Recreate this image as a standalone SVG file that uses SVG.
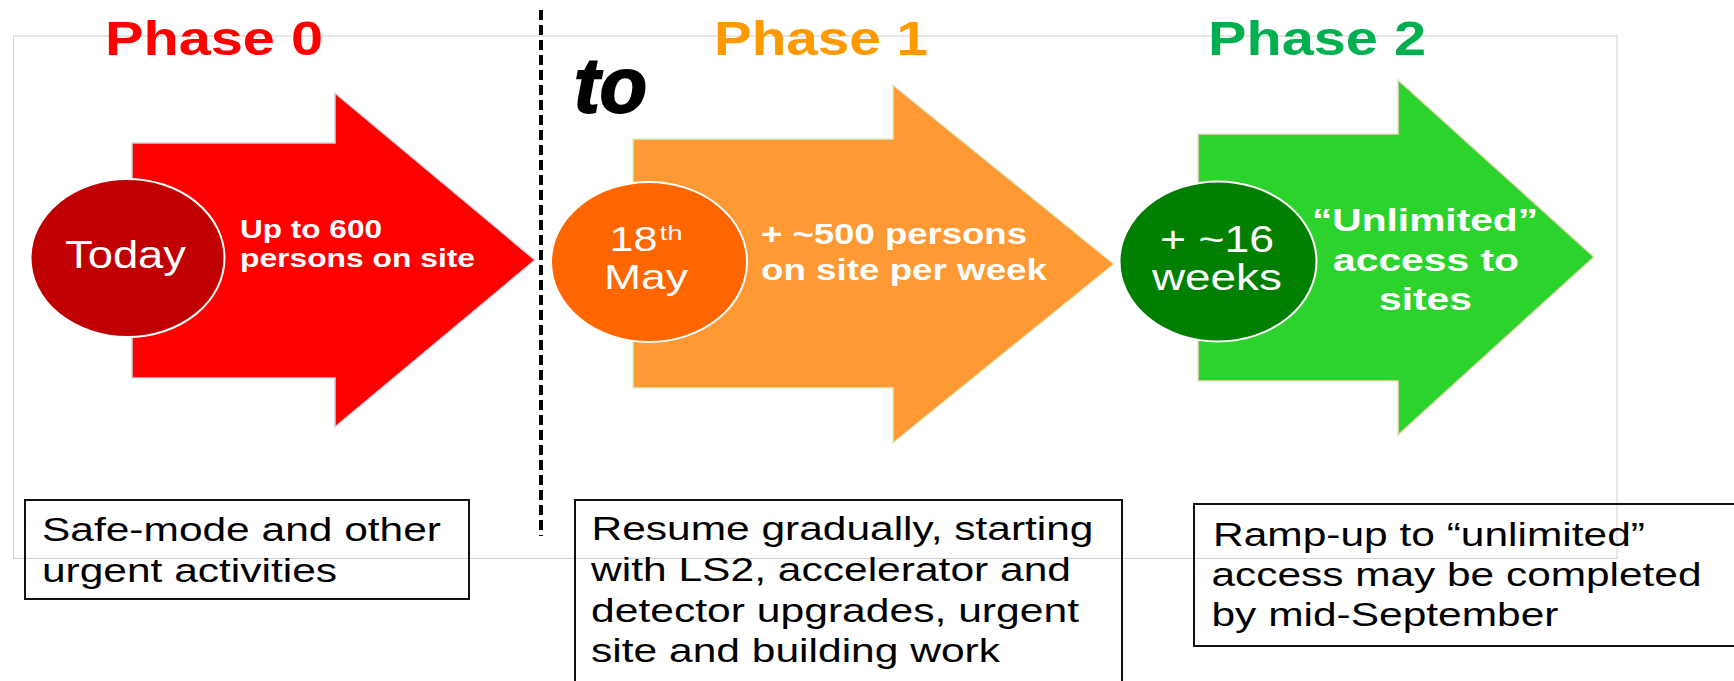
<svg xmlns="http://www.w3.org/2000/svg" width="1734" height="681" viewBox="0 0 1734 681">
<style>
text{font-family:"Liberation Sans",Arial,sans-serif}
.ph{font-size:48px;font-weight:bold}
.circ{stroke:#ffffff;stroke-width:2}
.ctext{fill:#ffffff}
.atext{fill:#ffffff;font-weight:bold}
.box{fill:none;stroke:#111111;stroke-width:2}
.btext{fill:#000000;font-size:33px}
</style>
<rect x="13.5" y="36" width="1603.5" height="522.5" fill="none" stroke="#d0d0d0" stroke-width="1"/>
<g id="titles">
<text class="ph" x="105" y="54.5" fill="#FF0000" textLength="218" lengthAdjust="spacingAndGlyphs">Phase 0</text>
<text class="ph" x="714" y="54.5" fill="#FF9900" textLength="214" lengthAdjust="spacingAndGlyphs">Phase 1</text>
<text class="ph" x="1208" y="54.5" fill="#00B050" textLength="218" lengthAdjust="spacingAndGlyphs">Phase 2</text>
<text x="574" y="112" font-size="78" font-weight="bold" font-style="italic" fill="#000" stroke="#000" stroke-width="2" textLength="73" lengthAdjust="spacingAndGlyphs">to</text>
</g>
<g id="connectors">
<line x1="541" y1="10" x2="541" y2="536" stroke="#000" stroke-width="4" stroke-dasharray="10 5"/>
</g>
<g id="phase0">
<polygon points="132,143 335,143 335,93 535,260 335,427 335,378 132,378" fill="#FF0000" stroke="#c4d8e4" stroke-width="1.5"/>
<ellipse class="circ" cx="127.5" cy="258" rx="97" ry="79" fill="#C00000"/>
<text class="ctext" x="65" y="268" font-size="38" textLength="121" lengthAdjust="spacingAndGlyphs">Today</text>
<text class="atext" x="240" y="238" font-size="26" textLength="142" lengthAdjust="spacingAndGlyphs">Up to 600</text>
<text class="atext" x="240" y="267" font-size="26" textLength="235" lengthAdjust="spacingAndGlyphs">persons on site</text>
</g>
<g id="phase1">
<polygon points="633,139 893,139 893,85 1114,264 893,443 893,388 633,388" fill="#FF9933" stroke="#d4f0c8" stroke-width="1.5"/>
<ellipse class="circ" cx="649" cy="262" rx="98" ry="80" fill="#FF6600"/>
<text class="ctext" x="609.6" y="251" font-size="35" textLength="48" lengthAdjust="spacingAndGlyphs">18</text>
<text class="ctext" x="659.6" y="240" font-size="21" textLength="23" lengthAdjust="spacingAndGlyphs">th</text>
<text class="ctext" x="604" y="289" font-size="35" textLength="84" lengthAdjust="spacingAndGlyphs">May</text>
<text class="atext" x="761" y="244" font-size="29" textLength="266" lengthAdjust="spacingAndGlyphs">+ ~500 persons</text>
<text class="atext" x="761" y="280" font-size="29" textLength="286" lengthAdjust="spacingAndGlyphs">on site per week</text>
</g>
<g id="phase2">
<polygon points="1198,134 1398,134 1398,80 1594,257 1398,435 1398,381 1198,381" fill="#2DD32D" stroke="#f5d8c4" stroke-width="1.5"/>
<ellipse class="circ" cx="1218" cy="261.5" rx="98.5" ry="80" fill="#007F00"/>
<text class="ctext" x="1160" y="252" font-size="37" textLength="114" lengthAdjust="spacingAndGlyphs">+ ~16</text>
<text class="ctext" x="1152" y="290" font-size="37" textLength="130" lengthAdjust="spacingAndGlyphs">weeks</text>
<text class="atext" x="1312" y="231" font-size="32" textLength="226" lengthAdjust="spacingAndGlyphs">“Unlimited”</text>
<text class="atext" x="1333" y="271" font-size="32" textLength="186" lengthAdjust="spacingAndGlyphs">access to</text>
<text class="atext" x="1379" y="310" font-size="32" textLength="93" lengthAdjust="spacingAndGlyphs">sites</text>
</g>
<g id="box1">
<rect class="box" x="25" y="500" width="444" height="99"/>
<text class="btext" x="42" y="540.5" textLength="399" lengthAdjust="spacingAndGlyphs">Safe-mode and other</text>
<text class="btext" x="42" y="581.5" textLength="295" lengthAdjust="spacingAndGlyphs">urgent activities</text>
</g>
<g id="box2">
<rect class="box" x="575" y="500" width="547" height="200"/>
<text class="btext" x="591.5" y="540" textLength="502" lengthAdjust="spacingAndGlyphs">Resume gradually, starting</text>
<text class="btext" x="591" y="581" textLength="480" lengthAdjust="spacingAndGlyphs">with LS2, accelerator and</text>
<text class="btext" x="591" y="621.5" textLength="488" lengthAdjust="spacingAndGlyphs">detector upgrades, urgent</text>
<text class="btext" x="591" y="661.5" textLength="409" lengthAdjust="spacingAndGlyphs">site and building work</text>
</g>
<g id="box3">
<rect class="box" x="1194" y="504" width="560" height="142"/>
<text class="btext" x="1213" y="546" textLength="432" lengthAdjust="spacingAndGlyphs">Ramp-up to “unlimited”</text>
<text class="btext" x="1211.5" y="586" textLength="490" lengthAdjust="spacingAndGlyphs">access may be completed</text>
<text class="btext" x="1211.5" y="626" textLength="347" lengthAdjust="spacingAndGlyphs">by mid-September</text>
</g>
</svg>
